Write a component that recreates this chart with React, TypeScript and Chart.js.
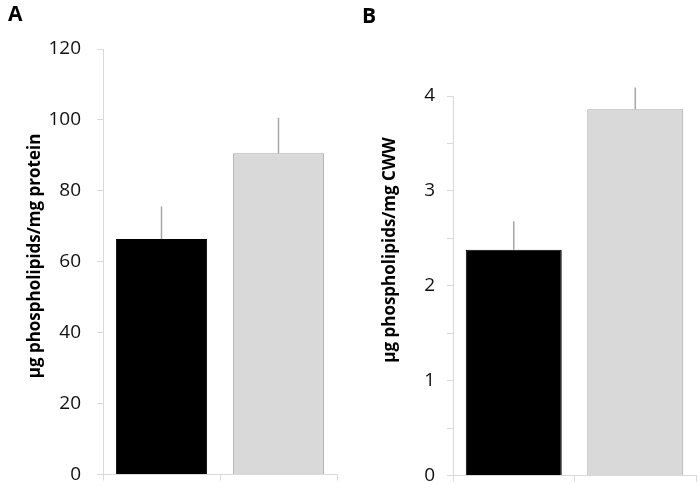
import { useEffect, useRef } from 'react';
import { Chart, registerables } from 'chart.js';

Chart.register(...registerables);

const categories = ['Group 1', 'Group 2'];
const valuesA = [66.4, 90.6];
const errorsA = [9.2, 10.0];
const valuesB = [2.38, 3.86];
const errorsB = [0.3, 0.23];
const barColors = ['#000000', '#d9d9d9'];
const barBorders = ['#000000', '#a6a6a6'];
const titleA = 'µg phospholipids/mg protein';
const titleB = 'µg phospholipids/mg CWW';

const FONT = '"Open Sans", "Noto Sans", sans-serif';

const errorPlugin = {
  id: 'errorBars',
  afterDatasetsDraw(chart: any) {
    const ctx = chart.ctx;
    const yScale = chart.scales.y;
    chart.data.datasets.forEach((ds: any, di: number) => {
      const meta = chart.getDatasetMeta(di);
      const errs: number[] = ds.errors || [];
      meta.data.forEach((bar: any, i: number) => {
        const v = ds.data[i];
        const top = yScale.getPixelForValue(v + errs[i]);
        ctx.save();
        ctx.strokeStyle = '#a6a6a6';
        ctx.lineWidth = 1.5;
        ctx.beginPath();
        ctx.moveTo(bar.x, bar.y);
        ctx.lineTo(bar.x, top);
        ctx.stroke();
        ctx.restore();
      });
    });
  },
};

const textPlugin = {
  id: 'panelText',
  afterDraw(chart: any, _args: any, opts: any) {
    const ctx = chart.ctx;
    ctx.save();
    ctx.fillStyle = '#000';
    ctx.font = `bold 21px ${FONT}`;
    ctx.textAlign = 'left';
    ctx.textBaseline = 'top';
    ctx.fillText(opts.label, opts.labelX, opts.labelY);
    ctx.translate(opts.titleX, opts.titleY);
    ctx.rotate(-Math.PI / 2);
    ctx.font = `bold 17px ${FONT}`;
    ctx.textAlign = 'center';
    ctx.textBaseline = 'middle';
    ctx.fillText(opts.title, 0, 0);
    ctx.restore();
  },
};

function makeConfig(
  values: number[],
  errors: number[],
  max: number,
  step: number,
  integerLabels: boolean,
  yWidth: number,
  padTop: number,
  padRight: number,
  xHeight: number,
  tickPad: number,
  barPct: number,
  text: any
): any {
  return {
    type: 'bar',
    data: {
      labels: categories,
      datasets: [
        {
          data: values,
          errors,
          backgroundColor: barColors,
          borderColor: barBorders,
          borderWidth: 1,
          categoryPercentage: 1,
          barPercentage: barPct,
        },
      ],
    },
    options: {
      responsive: false,
      animation: false,
      layout: { padding: { top: padTop, right: padRight, left: 0, bottom: 0 } },
      plugins: {
        legend: { display: false },
        tooltip: { enabled: false },
        panelText: text,
      },
      scales: {
        x: {
          grid: {
            display: true,
            offset: true,
            drawOnChartArea: false,
            drawTicks: true,
            tickLength: 6,
            color: '#d9d9d9',
          },
          border: { display: true, color: '#d9d9d9', width: 1 },
          ticks: { display: false },
          afterFit: (s: any) => {
            s.height = xHeight;
          },
        },
        y: {
          min: 0,
          max,
          grid: {
            drawOnChartArea: false,
            drawTicks: true,
            tickLength: 6,
            color: '#d9d9d9',
          },
          border: { display: true, color: '#d9d9d9', width: 1 },
          ticks: {
            stepSize: step,
            padding: tickPad,
            color: '#111111',
            font: { family: FONT, size: 19 },
            callback: (v: number) =>
              integerLabels ? (Number.isInteger(v) ? String(v) : '') : String(v),
          },
          afterFit: (s: any) => {
            s.width = yWidth;
          },
        },
      },
    },
    plugins: [errorPlugin, textPlugin],
  };
}

export default function App() {
  const refA = useRef<HTMLCanvasElement>(null);
  const refB = useRef<HTMLCanvasElement>(null);

  useEffect(() => {
    document.body.style.margin = '0';
    const a = new Chart(
      refA.current as HTMLCanvasElement,
      makeConfig(valuesA, errorsA, 120, 20, false, 103, 49, 8, 11, 16, 0.78, {
        label: 'A',
        labelX: 8,
        labelY: 5,
        title: titleA,
        titleX: 35,
        titleY: 256,
      })
    );
    const b = new Chart(
      refB.current as HTMLCanvasElement,
      makeConfig(valuesB, errorsB, 4, 0.5, true, 108, 96, 4, 10, 12, 0.79, {
        label: 'B',
        labelX: 17,
        labelY: 7,
        title: titleB,
        titleX: 45,
        titleY: 250,
      })
    );
    return () => {
      a.destroy();
      b.destroy();
    };
  }, []);

  return (
    <div
      style={{
        position: 'absolute',
        left: 0,
        top: 0,
        width: 700,
        height: 485,
        overflow: 'hidden',
        background: '#fff',
      }}
    >
      <canvas ref={refA} width={345} height={502} style={{ position: 'absolute', left: 0, top: 0 }} />
      <canvas ref={refB} width={355} height={499} style={{ position: 'absolute', left: 345, top: 0 }} />
    </div>
  );
}
